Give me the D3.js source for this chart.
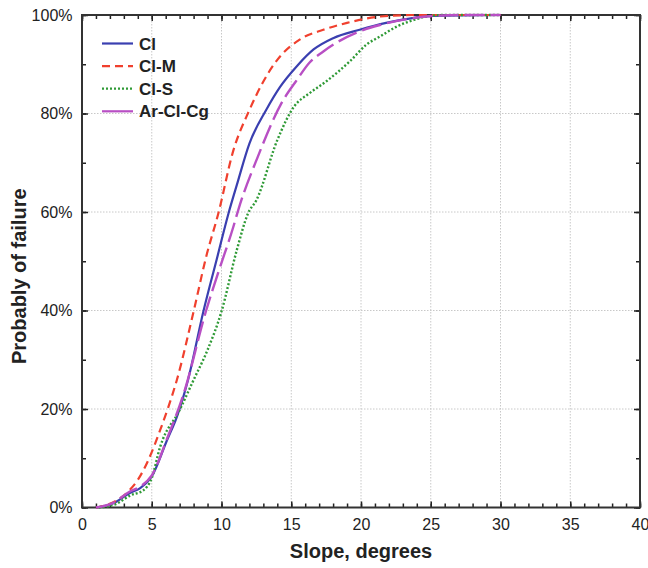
<!DOCTYPE html>
<html>
<head>
<meta charset="utf-8">
<script src="https://cdn.jsdelivr.net/npm/d3@7"></script>
<style>
  body { margin: 0; background: #fff; }
  text { font-family: Arial, "Liberation Sans", sans-serif; }
</style>
</head>
<body>
<div id="chart"></div>
<script>
// data (slope in degrees, probability in %)
var clX  = [1.0, 2.2, 3.4, 4.2, 5.0, 6.1, 6.8, 7.6, 8.7, 9.65, 10.5, 11.1, 12.0, 13.2, 14.2, 15.4, 16.6, 18.0, 19.9, 21.8, 23.8, 25.0, 30.0];
var clY  = [0, 0.8, 2.9, 4.0, 6.3, 13.7, 18.4, 25.9, 39.8, 50.3, 59.7, 65.5, 73.9, 80.7, 85.4, 89.6, 93.0, 95.3, 97.0, 98.4, 99.4, 99.8, 100];

var clmX = [1.0, 1.5, 3.4, 4.0, 4.75, 5.6, 6.2, 6.8, 8.0, 8.9, 9.8, 10.8, 12.0, 14.0, 15.6, 17.3, 19.0, 21.4, 24.0, 30.0];
var clmY = [0, 0.3, 3.5, 5.6, 9.6, 15.7, 20.5, 25.9, 39.8, 50.9, 60.0, 72.0, 80.7, 90.9, 95.0, 97.0, 98.4, 99.7, 100, 100];

var clsX = [1.2, 2.5, 3.5, 4.4, 5.0, 5.6, 7.0, 8.0, 9.0, 10.0, 11.1, 11.9, 12.5, 14.0, 15.2, 16.3, 17.5, 19.2, 20.4, 21.4, 22.6, 23.8, 24.7, 26.0, 30.0];
var clsY = [0, 0.8, 2.5, 3.5, 6.0, 12.3, 19.8, 25.9, 32.0, 39.8, 52.3, 59.7, 62.4, 74.6, 81.4, 84.1, 86.5, 90.6, 94.0, 95.7, 97.7, 99.0, 99.7, 100, 100];

var arX  = [1.0, 2.2, 3.4, 4.2, 5.0, 6.1, 7.3, 8.9, 9.8, 10.85, 11.2, 12.6, 14.3, 15.4, 16.3, 17.3, 20.2, 21.4, 23.8, 27.0, 30.0];
var arY  = [0, 0.9, 3.2, 4.3, 6.5, 14.0, 23.2, 40.0, 48.0, 57.0, 60.4, 71.2, 82.1, 86.8, 90.3, 92.6, 97.0, 98.0, 99.4, 100, 100];

var seriesNames = ["Cl", "Cl-M", "Cl-S", "Ar-Cl-Cg"];
var xTicks = [0, 5, 10, 15, 20, 25, 30, 35, 40];
var yTicks = [0, 20, 40, 60, 80, 100];

var svgWidth = 648;
var svgHeight = 568;
var margin = { top: 15, right: 8, bottom: 60, left: 82 };
var width = svgWidth - margin.left - margin.right;
var height = 507.5 - margin.top;

var svg = d3.select("#chart")
    .append("svg")
    .attr("width", svgWidth)
    .attr("height", svgHeight);

var chartGroup = svg.append("g")
    .attr("transform", `translate(${margin.left}, ${margin.top})`);

var xScale = d3.scaleLinear().domain([0, 40]).range([0, width]);
var yScale = d3.scaleLinear().domain([0, 100]).range([height, 0]);

// grid lines
chartGroup.append("g")
    .selectAll("line")
    .data(xTicks.slice(1, -1))
    .enter().append("line")
    .attr("x1", d => xScale(d)).attr("x2", d => xScale(d))
    .attr("y1", 0).attr("y2", height)
    .attr("stroke", "#c8c8c8").attr("stroke-width", 1)
    .attr("stroke-dasharray", "1.5,1.5");

chartGroup.append("g")
    .selectAll("line")
    .data(yTicks.slice(1, -1))
    .enter().append("line")
    .attr("x1", 0).attr("x2", width)
    .attr("y1", d => yScale(d)).attr("y2", d => yScale(d))
    .attr("stroke", "#c8c8c8").attr("stroke-width", 1)
    .attr("stroke-dasharray", "1.5,1.5");

// axes (ticks pointing inward), minor + major
var minorX = d3.range(0, 41, 1);
var minorY = d3.range(0, 101, 10);

function addAxis(axis, transform) {
    var g = chartGroup.append("g").attr("transform", transform).call(axis);
    g.select(".domain").remove();
    g.selectAll("line").attr("stroke", "#222").attr("stroke-width", 1.5);
    return g;
}

addAxis(d3.axisBottom(xScale).tickValues(minorX).tickSize(-4).tickFormat(""), `translate(0, ${height})`);
addAxis(d3.axisTop(xScale).tickValues(minorX).tickSize(-4).tickFormat(""), "translate(0, 0)");
addAxis(d3.axisLeft(yScale).tickValues(minorY).tickSize(-4).tickFormat(""), "translate(0, 0)");
addAxis(d3.axisRight(yScale).tickValues(minorY).tickSize(-4).tickFormat(""), `translate(${width}, 0)`);

var bottom = addAxis(d3.axisBottom(xScale).tickValues(xTicks).tickSize(-6).tickPadding(11), `translate(0, ${height})`);
bottom.selectAll("text").style("font-size", "16px").attr("fill", "#222");

var left = addAxis(d3.axisLeft(yScale).tickValues(yTicks).tickSize(-6).tickPadding(9.5).tickFormat(d => d + "%"), "translate(0, 0)");
left.selectAll("text").style("font-size", "16px").attr("fill", "#222");

addAxis(d3.axisTop(xScale).tickValues(xTicks).tickSize(-6).tickFormat(""), "translate(0, 0)");
addAxis(d3.axisRight(yScale).tickValues(yTicks).tickSize(-6).tickFormat(""), `translate(${width}, 0)`);

// frame
chartGroup.append("rect")
    .attr("x", 0).attr("y", 0)
    .attr("width", width).attr("height", height)
    .attr("fill", "none")
    .attr("stroke", "#333")
    .attr("stroke-width", 2);

// lines
var seriesData = [
    { name: seriesNames[0], x: clX, y: clY, color: "#3a3fb0", dash: null, w: 2.2 },
    { name: seriesNames[1], x: clmX, y: clmY, color: "#f0402e", dash: "8,5", w: 2.2 },
    { name: seriesNames[2], x: clsX, y: clsY, color: "#2f9a36", dash: "2,2", w: 2.4 },
    { name: seriesNames[3], x: arX, y: arY, color: "#b84fc4", dash: "20,6", w: 2.4 }
];

var line = d3.line()
    .x(d => xScale(d[0]))
    .y(d => yScale(d[1]))
    .curve(d3.curveMonotoneX);

seriesData.forEach(function (s) {
    var pts = s.x.map((v, i) => [v, s.y[i]]);
    chartGroup.append("path")
        .datum(pts)
        .attr("d", line)
        .attr("fill", "none")
        .attr("stroke", s.color)
        .attr("stroke-width", s.w)
        .attr("stroke-dasharray", s.dash);
});

// legend
var legend = chartGroup.append("g")
    .attr("transform", "translate(20, 28.5)");

seriesData.forEach(function (s, i) {
    var row = legend.append("g").attr("transform", `translate(0, ${i * 22.6})`);
    row.append("line")
        .attr("x1", 0).attr("x2", 31)
        .attr("stroke", s.color)
        .attr("stroke-width", 2.2)
        .attr("stroke-dasharray", i === 3 ? null : s.dash);
    row.append("text")
        .attr("x", 37).attr("y", 6)
        .style("font-size", "17px")
        .style("font-weight", "bold")
        .attr("fill", "#222")
        .text(s.name);
});

// axis labels
chartGroup.append("text")
    .attr("transform", "rotate(-90)")
    .attr("x", -(height / 2) - 15)
    .attr("y", -margin.left + 26)
    .attr("text-anchor", "middle")
    .style("font-size", "20px")
    .style("font-weight", "bold")
    .attr("fill", "#222")
    .text("Probably of failure");

chartGroup.append("text")
    .attr("x", width / 2)
    .attr("y", height + 50)
    .attr("text-anchor", "middle")
    .style("font-size", "20px")
    .style("font-weight", "bold")
    .attr("fill", "#222")
    .text("Slope, degrees");
</script>
</body>
</html>
